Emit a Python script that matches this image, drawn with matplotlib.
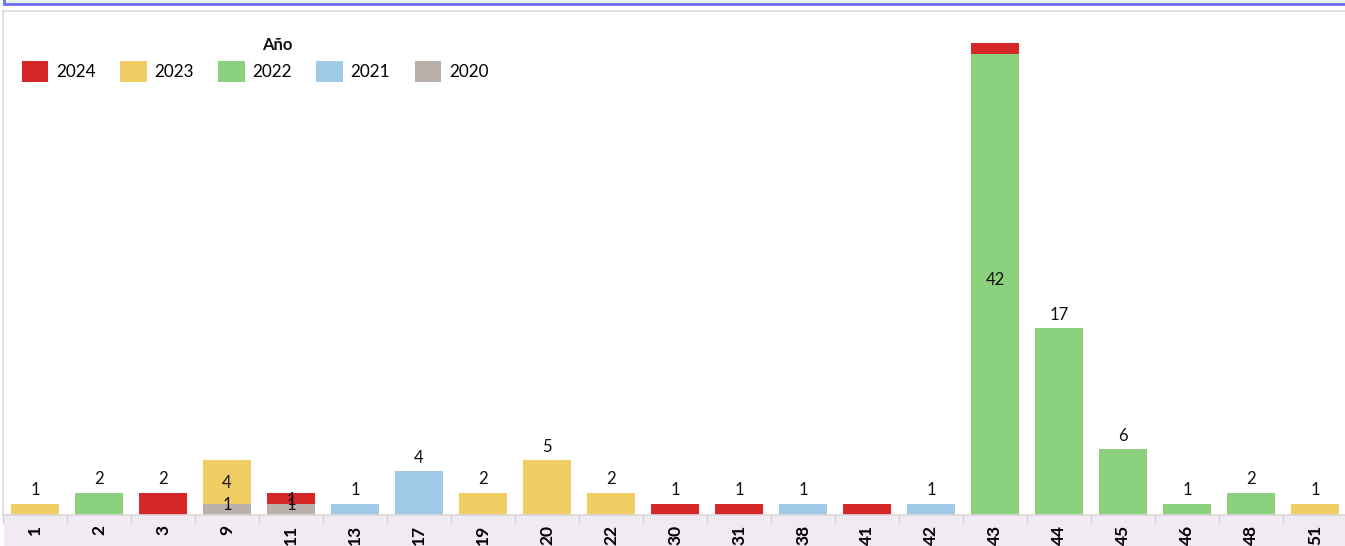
import matplotlib
matplotlib.use("Agg")
import matplotlib.pyplot as plt
from matplotlib.patches import Rectangle, Patch
import numpy as np

categories = ["1", "2", "3", "9", "11", "13", "17", "19", "20", "22", "30",
              "31", "38", "41", "42", "43", "44", "45", "46", "48", "51"]
years = ["2020", "2021", "2022", "2023", "2024"]
v2020 = [0, 0, 0, 1, 1, 0, 0, 0, 0, 0, 0, 0, 0, 0, 0, 0, 0, 0, 0, 0, 0]
v2021 = [0, 0, 0, 0, 0, 1, 4, 0, 0, 0, 0, 0, 1, 0, 1, 0, 0, 0, 0, 0, 0]
v2022 = [0, 2, 0, 0, 0, 0, 0, 0, 0, 0, 0, 0, 0, 0, 0, 42, 17, 6, 1, 2, 0]
v2023 = [1, 0, 0, 4, 0, 0, 0, 2, 5, 2, 0, 0, 0, 0, 0, 0, 0, 0, 0, 0, 1]
v2024 = [0, 0, 2, 0, 1, 0, 0, 0, 0, 0, 1, 1, 0, 1, 0, 1, 0, 0, 0, 0, 0]
series = {"2020": v2020, "2021": v2021, "2022": v2022, "2023": v2023, "2024": v2024}
colors = {"2024": "#D62728", "2023": "#F1CE63", "2022": "#8CD17D",
          "2021": "#A0CBE8", "2020": "#BAB0AC"}
hidden_labels = [("41", "2024"), ("43", "2024")]

plt.rcParams['font.family'] = ['Lato', 'DejaVu Sans']

W, H = 1345, 546
fig = plt.figure(figsize=(W / 100, H / 100), dpi=100)

def px(x0, y0, x1, y1):
    # pixel coords (top-left origin) -> figure fraction rect
    return [x0 / W, 1 - y1 / H, (x1 - x0) / W, (y1 - y0) / H]

# top banner of previous element
r = px(4, -10, 1360, 4)
fig.patches.append(Rectangle((r[0], r[1]), r[2], r[3], transform=fig.transFigure,
                             facecolor="#E4F3EA", edgecolor="#6B6BF5", linewidth=2, zorder=-2))
# x-axis label band
r = px(4, 515, 1345, 546)
fig.patches.append(Rectangle((r[0], r[1]), r[2], r[3], transform=fig.transFigure,
                             facecolor="#F1EAF2", edgecolor="none", zorder=-2))

ax = fig.add_axes(px(3, 11, 1347, 515))
ax.set_facecolor("none")
x = np.arange(len(categories))
bottom = np.zeros(len(categories))
for y in years:
    vals = np.array(series[y], dtype=float)
    ax.bar(x, vals, bottom=bottom, width=0.75, color=colors[y], zorder=2)
    bottom += vals

# data labels
for i, c in enumerate(categories):
    segs = [(y, series[y][i]) for y in years if series[y][i] > 0]
    base = 0
    for k, (y, v) in enumerate(segs):
        if (c, y) not in hidden_labels:
            if len(segs) == 1:
                ax.annotate(str(v), (x[i], base + v), xytext=(0, 4), textcoords="offset points",
                            ha="center", va="bottom", fontsize=12, color="#111111")
            else:
                off = 3 if k == 0 else -1
                ax.annotate(str(v), (x[i], base + v / 2), xytext=(0, off),
                            textcoords="offset points", ha="center", va="center",
                            fontsize=12, color="#111111")
        base += v

ax.set_xlim(-0.5, len(categories) - 0.5)
ax.set_ylim(0, 45.9)
ax.set_yticks([])
ax.set_xticks(x)
ax.set_xticklabels(categories, rotation=90, fontsize=12.5, fontweight="bold")
ax.tick_params(axis="x", which="major", length=0, pad=7)
ax.set_xticks(np.arange(-0.5, len(categories), 1), minor=True)
ax.tick_params(axis="x", which="minor", length=6, color="#CFCFCF", width=1)
for s in ["right"]:
    ax.spines[s].set_visible(False)
for s in ["left", "top", "bottom"]:
    ax.spines[s].set_color("#D9D9D9")
    ax.spines[s].set_linewidth(1.2)

handles = [Patch(facecolor=colors[y], edgecolor="none") for y in years[::-1]]
leg = fig.legend(handles, years[::-1], loc="upper left", bbox_to_anchor=(10 / W, 1 - 49 / H),
                 ncol=5, frameon=False, fontsize=12.3,
                 handlelength=1.55, handleheight=1.55, handletextpad=0.45,
                 columnspacing=1.43, borderpad=0.2, labelspacing=0.2)
fig.text(277 / W, 1 - 45 / H, "Año", ha="center", va="center", fontsize=12,
         fontweight="bold", color="#111111")

fig.savefig("out.png", dpi=100)
